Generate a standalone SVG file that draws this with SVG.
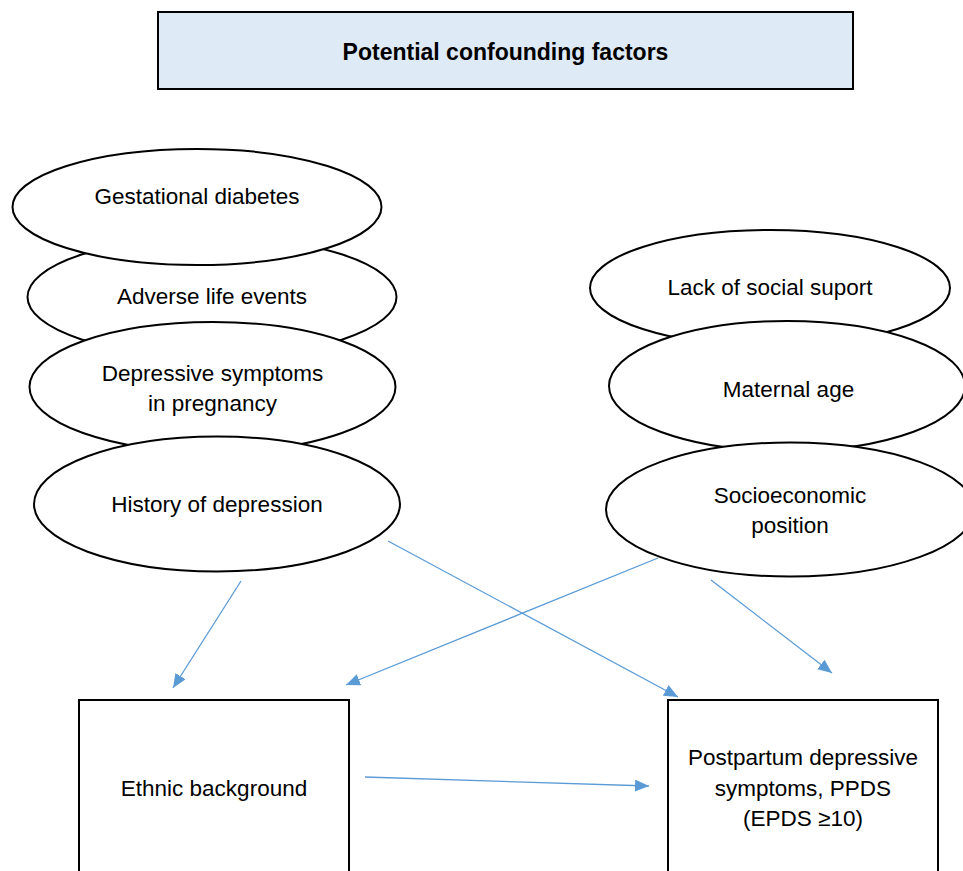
<svg xmlns="http://www.w3.org/2000/svg" width="963" height="871" viewBox="0 0 963 871">
<style>
.bg{fill:#ffffff}
.node{fill:#ffffff;stroke:#000000;stroke-width:2}
.title{fill:#DEEAF6;stroke:#000000;stroke-width:2}
.t{font-family:"Liberation Sans",Arial,sans-serif;font-size:22.5px;fill:#000000;text-anchor:middle}
.tb{font-family:"Liberation Sans",Arial,sans-serif;font-size:23px;font-weight:bold;fill:#000000;text-anchor:middle}
.edge{stroke:#5B9BD5;stroke-width:1.3;fill:none;marker-end:url(#ah)}
</style>
<defs>
<marker id="ah" markerUnits="userSpaceOnUse" markerWidth="15" markerHeight="13" refX="14" refY="6" orient="auto">
<path d="M0,0 L14,6 L0,12 z" fill="#5B9BD5"/>
</marker>
</defs>
<rect class="bg" x="0" y="0" width="963" height="871"/>
<g id="title">
<rect class="title" x="158" y="12" width="695" height="77"/>
<text class="tb" x="505.5" y="60">Potential confounding factors</text>
</g>
<g id="adverse">
<ellipse class="node" cx="212" cy="297" rx="184.5" ry="60"/>
<text class="t" x="212" y="304">Adverse life events</text>
</g>
<g id="gestational">
<ellipse class="node" cx="197" cy="207" rx="184.5" ry="58"/>
<text class="t" x="197" y="204">Gestational diabetes</text>
</g>
<g id="depressive">
<ellipse class="node" cx="212.5" cy="387" rx="183" ry="65"/>
<text class="t" x="212.5" y="381">Depressive symptoms</text>
<text class="t" x="212.5" y="411">in pregnancy</text>
</g>
<g id="history">
<ellipse class="node" cx="217" cy="504" rx="183" ry="67.5"/>
<text class="t" x="217" y="512">History of depression</text>
</g>
<g id="social">
<ellipse class="node" cx="770" cy="288" rx="180" ry="58"/>
<text class="t" x="770" y="295">Lack of social suport</text>
</g>
<g id="maternal">
<ellipse class="node" cx="787" cy="386" rx="178" ry="65"/>
<text class="t" x="788.5" y="397">Maternal age</text>
</g>
<g id="socioeconomic">
<ellipse class="node" cx="790" cy="509.5" rx="184" ry="67"/>
<text class="t" x="790" y="503">Socioeconomic</text>
<text class="t" x="790" y="533">position</text>
</g>
<g id="ethnic">
<rect class="node" x="79" y="700" width="270" height="185"/>
<text class="t" x="214" y="796">Ethnic background</text>
</g>
<g id="ppds">
<rect class="node" x="668" y="700" width="270" height="185"/>
<text class="t" x="803" y="765">Postpartum depressive</text>
<text class="t" x="803" y="796">symptoms, PPDS</text>
<text class="t" x="803" y="826">(EPDS ≥10)</text>
</g>
<g id="connectors">
<line class="edge" x1="241" y1="581" x2="173" y2="688"/>
<line class="edge" x1="388" y1="541" x2="678" y2="697"/>
<line class="edge" x1="658" y1="558" x2="346" y2="685"/>
<line class="edge" x1="711" y1="580" x2="832" y2="673"/>
<line class="edge" x1="365" y1="777" x2="649" y2="786"/>
</g>
</svg>
